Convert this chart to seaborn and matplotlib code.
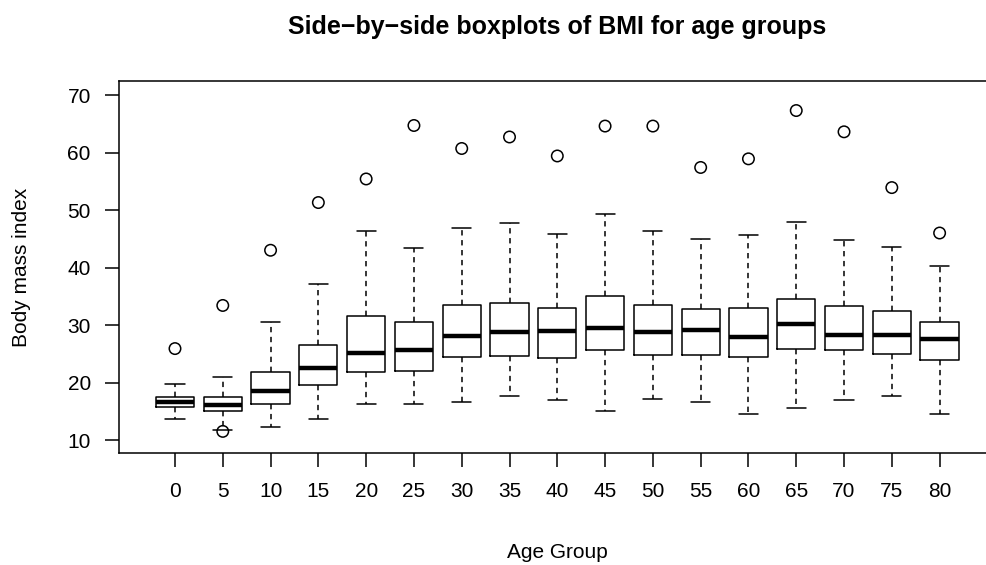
import matplotlib
matplotlib.use("Agg")
import matplotlib.pyplot as plt
import seaborn as sns
import pandas as pd

# ---- data ----
age_groups = ["0", "5", "10", "15", "20", "25", "30", "35", "40", "45",
              "50", "55", "60", "65", "70", "75", "80"]
whisker_low = [13.7, 11.7, 12.3, 13.7, 16.2, 16.2, 16.6, 17.7, 17.0, 15.1,
               17.2, 16.6, 14.5, 15.5, 17.0, 17.6, 14.5]
q1 = [15.8, 15.1, 16.3, 19.6, 21.8, 22.0, 24.5, 24.6, 24.3, 25.7,
      24.8, 24.7, 24.4, 25.8, 25.7, 25.0, 23.9]
median = [16.6, 16.1, 18.5, 22.5, 25.2, 25.6, 28.1, 28.7, 28.9, 29.4,
          28.8, 29.1, 27.9, 30.1, 28.2, 28.2, 27.5]
q3 = [17.4, 17.5, 21.9, 26.6, 31.6, 30.6, 33.4, 33.9, 33.0, 35.1,
      33.4, 32.8, 33.0, 34.6, 33.3, 32.5, 30.5]
whisker_high = [19.8, 20.9, 30.5, 37.2, 46.4, 43.4, 46.9, 47.8, 45.8, 49.3,
                46.4, 45.0, 45.7, 47.9, 44.7, 43.6, 40.2]
outliers = [[25.9], [11.5, 33.4], [43.0], [51.3], [55.4], [64.7], [60.7],
            [62.7], [59.4], [64.6], [64.6], [57.4], [58.9], [67.3], [63.6],
            [53.9], [46.0]]

title = "Side\u2212by\u2212side boxplots of BMI for age groups"
xlabel = "Age Group"
ylabel = "Body mass index"

# ---- styling ----
sns.set_theme(style="white")
plt.rcParams["font.family"] = ["Liberation Sans", "DejaVu Sans"]
plt.rcParams["text.color"] = "black"
plt.rcParams["axes.labelcolor"] = "black"

W, H = 987, 565
fig = plt.figure(figsize=(W / 100, H / 100), dpi=100)
ax = fig.add_axes([118.6 / W, 1 - 453 / H, (996 - 118.6) / W, (453 - 80.7) / H])

positions = list(range(1, len(age_groups) + 1))
stats = []
for i in range(len(age_groups)):
    stats.append(dict(whislo=whisker_low[i], q1=q1[i], med=median[i],
                      q3=q3[i], whishi=whisker_high[i], fliers=[]))

lw = 1.1
ax.bxp(stats, positions=positions, widths=0.8, capwidths=0.4,
       showfliers=False, patch_artist=False,
       boxprops=dict(color="black", linewidth=lw),
       medianprops=dict(color="black", linewidth=3.2, solid_capstyle="butt"),
       whiskerprops=dict(color="black", linewidth=lw, linestyle=(0, (3.5, 3))),
       capprops=dict(color="black", linewidth=lw))

# outliers via seaborn
out_df = pd.DataFrame(
    [(positions[i], v) for i, vals in enumerate(outliers) for v in vals],
    columns=["pos", "bmi"])
sns.scatterplot(data=out_df, x="pos", y="bmi", ax=ax, marker="o", s=68,
                facecolor="none", edgecolor="black", linewidth=1.1,
                legend=False, zorder=3)

ax.set_xlim(-0.18, 18.18)
ax.set_ylim(7.74, 72.49)
ax.set_xticks(positions)
ax.set_xticklabels(age_groups)
ax.set_yticks([10, 20, 30, 40, 50, 60, 70])
ax.set_xlabel("")
ax.set_ylabel("")
ax.tick_params(axis="both", which="both", direction="out", length=10,
               width=lw, color="black", labelsize=15, labelcolor="black",
               bottom=True, left=True)
ax.tick_params(axis="x", pad=11)
ax.tick_params(axis="y", pad=10)
for s in ax.spines.values():
    s.set_visible(True)
    s.set_color("black")
    s.set_linewidth(lw)
ax.grid(False)

fig.text(557 / W, 1 - 34 / H, title, ha="center", va="baseline",
         fontsize=18, fontweight="bold", color="black")
fig.text(557 / W, 1 - 558 / H, xlabel, ha="center", va="baseline",
         fontsize=15, color="black")
fig.text(22 / W, 1 - 267 / H, ylabel, ha="center", va="center",
         rotation=90, fontsize=15, color="black")

fig.savefig("out.png", dpi=100)
